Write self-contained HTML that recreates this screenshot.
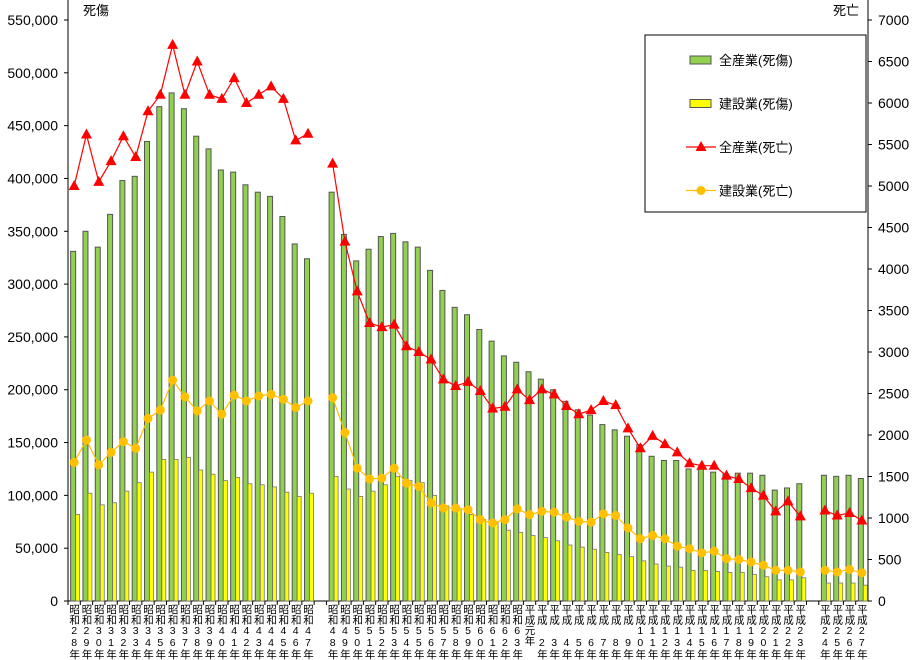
<!DOCTYPE html>
<html><head><meta charset="utf-8"><style>
body{margin:0;background:#fff;}
#wrap{position:relative;width:920px;height:660px;overflow:hidden;}
svg{display:block;font-family:"Liberation Sans","Noto Sans CJK JP",sans-serif;}
.xl{position:absolute;top:604px;width:12px;writing-mode:vertical-rl;text-orientation:upright;white-space:nowrap;font-family:"Liberation Sans","Noto Sans CJK JP",sans-serif;font-size:10.5px;line-height:12px;letter-spacing:0px;color:#000;}
</style></head><body>
<div id="wrap">
<svg id="chart" width="920" height="660" viewBox="0 0 920 660"></svg>
</div>
<script>
const categories=["昭和28年","昭和29年","昭和30年","昭和31年","昭和32年","昭和33年","昭和34年","昭和35年","昭和36年","昭和37年","昭和38年","昭和39年","昭和40年","昭和41年","昭和42年","昭和43年","昭和44年","昭和45年","昭和46年","昭和47年","",
"昭和48年","昭和49年","昭和50年","昭和51年","昭和52年","昭和53年","昭和54年","昭和55年","昭和56年","昭和57年","昭和58年","昭和59年","昭和60年","昭和61年","昭和62年","昭和63年","平成元年","平成 2年","平成 3年","平成 4年","平成 5年","平成 6年","平成 7年","平成 8年","平成 9年","平成10年","平成11年","平成12年","平成13年","平成14年","平成15年","平成16年","平成17年","平成18年","平成19年","平成20年","平成21年","平成22年","平成23年","",
"平成24年","平成25年","平成26年","平成27年"];
const allInjury=[331,350,335,366,398,402,435,468,481,466,440,428,408,406,394,387,383,364,338,324,null,
387,347,322,333,345,348,340,335,313,294,278,271,257,246,232,226,217,210,200,189,181,176,167,162,156,148,137,133,133,125,125,122,120,121,121,119,105,107,111,null,119,118,119,116];
const conInjury=[82,102,91,93,104,112,122,134,134,136,124,120,114,117,111,110,108,103,99,102,null,
118,106,99,104,110,118,114,112,100,90,87,82,77,74,67,65,62,60,57,53,51,49,46,44,42,38,35,33,32,29,29,28,27,27,25,23,20,20,22,null,17,17,17,15];
const allDeath=[5000,5620,5050,5300,5600,5350,5900,6100,6700,6100,6500,6100,6050,6300,6000,6100,6200,6050,5550,5630,null,
5270,4330,3730,3350,3300,3330,3070,3000,2910,2670,2590,2640,2530,2320,2340,2550,2420,2550,2490,2350,2250,2300,2410,2360,2080,1840,1990,1890,1790,1660,1630,1630,1510,1470,1360,1270,1080,1200,1020,null,1090,1030,1060,970];
const conDeath=[1670,1940,1640,1790,1920,1840,2200,2300,2660,2460,2290,2410,2250,2480,2410,2470,2490,2430,2330,2410,null,
2450,2030,1600,1470,1480,1600,1420,1380,1180,1120,1120,1100,980,940,980,1110,1040,1080,1070,1010,960,950,1050,1030,880,750,790,750,660,630,580,600,510,500,470,430,370,370,350,null,370,350,380,340];
const leftTicks=["0","50,000","100,000","150,000","200,000","250,000","300,000","350,000","400,000","450,000","500,000","550,000"];
const rightTicks=["0","500","1000","1500","2000","2500","3000","3500","4000","4500","5000","5500","6000","6500","7000"];

const svg=document.getElementById('chart');
const wrap=document.getElementById('wrap');
const NS="http://www.w3.org/2000/svg";
const X0=68,X1=868,Y0=601,Y1=20;
const slot=(X1-X0)/categories.length;
const xc=i=>X0+(i+0.5)*slot;
const yL=v=>Y0-(v*1000)/550000*(Y0-Y1);
const yR=v=>Y0-v/7000*(Y0-Y1);
function mk(tag,attrs,parent){const e=document.createElementNS(NS,tag);for(const k in attrs)e.setAttribute(k,attrs[k]);(parent||svg).appendChild(e);return e;}

let ax=mk('line',{x1:X0,y1:0,x2:X0,y2:Y0,stroke:'#000'});

ax=mk('line',{x1:X1,y1:0,x2:X1,y2:Y0,stroke:'#000'});

ax=mk('line',{x1:X0,y1:Y0,x2:X1,y2:Y0,stroke:'#000'});


leftTicks.forEach((t,i)=>{const y=Y0-i*(Y0-Y1)/(leftTicks.length-1);
 mk('line',{x1:X0-4,y1:y,x2:X0,y2:y,stroke:'#000'});
 const e=mk('text',{x:X0-10,y:y+5,'text-anchor':'end','font-size':14});e.textContent=t;
 });
rightTicks.forEach((t,i)=>{const y=Y0-i*(Y0-Y1)/(rightTicks.length-1);
 mk('line',{x1:X1,y1:y,x2:X1+4,y2:y,stroke:'#000'});
 const e=mk('text',{x:X1+10,y:y+5,'text-anchor':'start','font-size':14});e.textContent=t;
 });
let tt=mk('text',{x:83,y:15,'font-size':13});tt.textContent='死傷';

tt=mk('text',{x:833,y:15,'font-size':13});tt.textContent='死亡';


categories.forEach((c,i)=>{
 const x=X0+i*slot;
 mk('line',{x1:x,y1:Y0,x2:x,y2:Y0+4,stroke:'#000'});
 if(!c)return;
 const d=document.createElement('div');
 d.className='xl';
 d.style.left=(xc(i)-6)+'px';
 d.textContent=c;
 
 
 wrap.appendChild(d);
});

categories.forEach((c,i)=>{
 if(allInjury[i]==null)return;
 const cx=xc(i);
 let b=mk('rect',{x:cx-3.5,y:yL(allInjury[i]),width:5,height:Y0-yL(allInjury[i]),fill:'#92D050',stroke:'#555','stroke-width':1});
 
 b=mk('rect',{x:cx+1.5,y:yL(conInjury[i]),width:4,height:Y0-yL(conInjury[i]),fill:'#FFFF00',stroke:'#777','stroke-width':0.8});
 
});

function drawLine(vals,color,name,marker){
 let seg=[];const segs=[];
 vals.forEach((v,i)=>{if(v==null){if(seg.length)segs.push(seg);seg=[];}else seg.push([xc(i),yR(v)]);});
 if(seg.length)segs.push(seg);
 segs.forEach(s=>{const p=mk('polyline',{points:s.map(q=>q.join(',')).join(' '),fill:'none',stroke:color,'stroke-width':1.2});
  });
 vals.forEach((v,i)=>{if(v==null)return;const x=xc(i),y=yR(v);let m;
  if(marker==='tri')m=mk('polygon',{points:`${x},${y-6} ${x-5.5},${y+4} ${x+5.5},${y+4}`,fill:color});
  else m=mk('circle',{cx:x,cy:y,r:4.5,fill:color});
  });
}
drawLine(allDeath,'#FF0000','all-death','tri');
drawLine(conDeath,'#FFC000','construction-death','circle');

const lg=mk('g',{});
mk('rect',{x:645,y:35,width:221,height:177,fill:'#fff',stroke:'#000'},lg);
const items=[['全産業(死傷)','bar','#92D050'],['建設業(死傷)','bar','#FFFF00'],['全産業(死亡)','tri','#FF0000'],['建設業(死亡)','circle','#FFC000']];
items.forEach((it,k)=>{const y=60+k*43.5;
 const g=mk('g',{},lg);
 if(it[1]==='bar')mk('rect',{x:690,y:y-4,width:21,height:8,fill:it[2],stroke:'#555'},g);
 else{mk('line',{x1:686,y1:y,x2:716,y2:y,stroke:it[2],'stroke-width':1.2},g);
  if(it[1]==='tri')mk('polygon',{points:`701,${y-6} 695.5,${y+4} 706.5,${y+4}`,fill:it[2]},g);
  else mk('circle',{cx:701,cy:y,r:4.5,fill:it[2]},g);}
 const t=mk('text',{x:719,y:y+5,'font-size':13},g);t.textContent=it[0];
});
</script>
</body></html>
